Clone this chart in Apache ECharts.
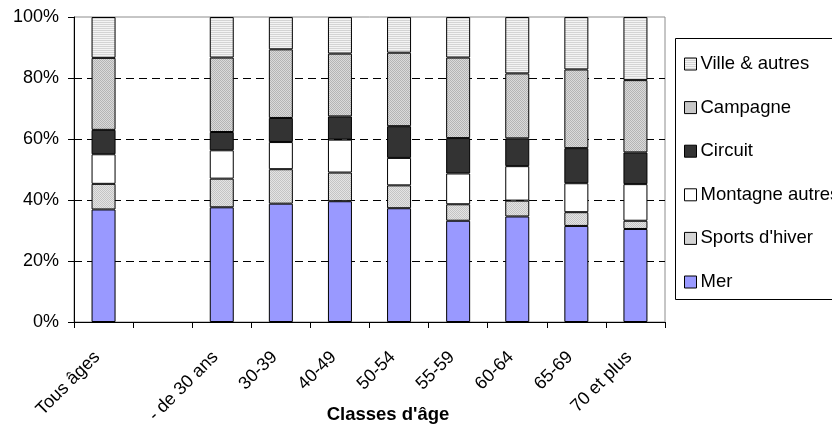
<!DOCTYPE html>
<html>
<head>
<meta charset="utf-8">
<script src="https://cdn.jsdelivr.net/npm/echarts@6/dist/echarts.min.js"></script>
<style>html,body{margin:0;padding:0;background:#fff;}#c{width:832px;height:425px;}</style>
</head>
<body>
<div id="c"></div>
<script>
var categories = ["Tous âges", "", "- de 30 ans", "30-39", "40-49", "50-54", "55-59", "60-64", "65-69", "70 et plus"];
var yTicks = [0, 20, 40, 60, 80, 100];
var mer       = [36.9, null, 37.6, 38.8, 39.6, 37.3, 33.2, 34.6, 31.5, 30.5];
var sports    = [8.4,  null, 9.4, 11.3, 9.4,  7.5,  5.4,  5.2,  4.5,  2.7];
var montagne  = [9.7,  null, 9.3,  8.9, 10.8, 9.0, 10.1, 11.3,  9.5, 12.0];
var circuit   = [8.0,  null, 6.0,  7.9,  7.6, 10.4, 11.6, 9.1, 11.5, 10.4];
var campagne  = [23.6, null, 24.4, 22.5, 20.6, 24.1, 26.4, 21.3, 25.8, 23.7];
var ville     = [13.4, null, 13.3, 10.6, 12.0, 11.7, 13.3, 18.5, 17.2, 20.7];
var seriesNames = ["Mer", "Sports d'hiver", "Montagne autres", "Circuit", "Campagne", "Ville & autres"];

function pattern(type, a, b) {
  var c = document.createElement('canvas');
  c.width = 4; c.height = 4;
  var ctx = c.getContext('2d');
  ctx.fillStyle = b; ctx.fillRect(0, 0, 4, 4);
  ctx.fillStyle = a;
  if (type === 'h') {
    ctx.fillRect(0, 0, 4, 1); ctx.fillRect(0, 2, 4, 1);
  } else {
    ctx.fillRect(0, 0, 1, 1); ctx.fillRect(2, 0, 1, 1);
    ctx.fillRect(1, 1, 1, 1); ctx.fillRect(3, 1, 1, 1);
    ctx.fillRect(0, 2, 1, 1); ctx.fillRect(2, 2, 1, 1);
    ctx.fillRect(1, 3, 1, 1); ctx.fillRect(3, 3, 1, 1);
  }
  return { image: c, repeat: 'repeat' };
}

var colors = [
  '#9999ff',
  pattern('c', '#c4c4c4', '#e4e4e4'),
  '#ffffff',
  '#333333',
  pattern('c', '#b4b4b4', '#dadada'),
  pattern('h', '#d4d4d4', '#f4f4f4')
];
var dataArr = [mer, sports, montagne, circuit, campagne, ville];

var FONT = 'Liberation Sans, Arial, sans-serif';
var chart = echarts.init(document.getElementById('c'), null, { renderer: 'canvas' });
var series = dataArr.map(function (d, i) {
  return {
    name: seriesNames[i],
    type: 'bar',
    stack: 'all',
    barWidth: 24,
    data: d,
    itemStyle: { color: colors[i], borderColor: '#000', borderWidth: 1 },
    emphasis: { disabled: true }
  };
});

chart.setOption({
  animation: false,
  backgroundColor: '#fff',
  textStyle: { fontFamily: FONT },
  grid: { left: 74, right: 167, top: 17, bottom: 103, show: true, borderColor: '#8c8c8c', borderWidth: 1, outerBoundsMode: 'none', containLabel: false },
  legend: {
    orient: 'vertical',
    left: 679,
    top: 49,
    itemWidth: 12,
    itemHeight: 12,
    itemGap: 23.6,
    icon: 'rect',
    data: seriesNames.slice().reverse(),
    itemStyle: { borderColor: '#000', borderWidth: 1 },
    textStyle: { fontFamily: FONT, fontSize: 18.5, color: '#000', lineHeight: 20, padding: [0, 0, 0, -1] }
  },
  xAxis: {
    type: 'category',
    data: categories,
    boundaryGap: true,
    axisLine: { lineStyle: { color: '#000', width: 1 } },
    axisTick: { show: true, length: 6, alignWithLabel: false, lineStyle: { color: '#000' } },
    axisLabel: { interval: 0, rotate: 45, margin: 26, fontSize: 18, fontFamily: FONT, color: '#000', padding: [0, 9, 0, 0] },
    splitLine: { show: false }
  },
  yAxis: {
    type: 'value',
    min: yTicks[0],
    max: yTicks[yTicks.length - 1],
    interval: 20,
    axisLine: { show: true, lineStyle: { color: '#000', width: 1 } },
    axisTick: { show: true, length: 6, lineStyle: { color: '#000' } },
    axisLabel: { formatter: '{value}%', fontSize: 18, fontFamily: FONT, color: '#000', margin: 15 },
    splitLine: { show: true, lineStyle: { type: [8, 5], width: 1, color: ['#000', '#000', '#000', '#000', '#000', 'rgba(0,0,0,0)'] } }
  },
  graphic: [
    { type: 'rect', shape: { x: 675.5, y: 38.5, width: 170, height: 261 }, style: { fill: 'none', stroke: '#000', lineWidth: 1 }, z: 1 },
    { type: 'text', x: 388, y: 415, style: { text: "Classes d'âge", font: 'bold 18.5px ' + FONT, fill: '#000', textAlign: 'center', textVerticalAlign: 'middle' } }
  ],
  series: series
});
</script>
</body>
</html>
